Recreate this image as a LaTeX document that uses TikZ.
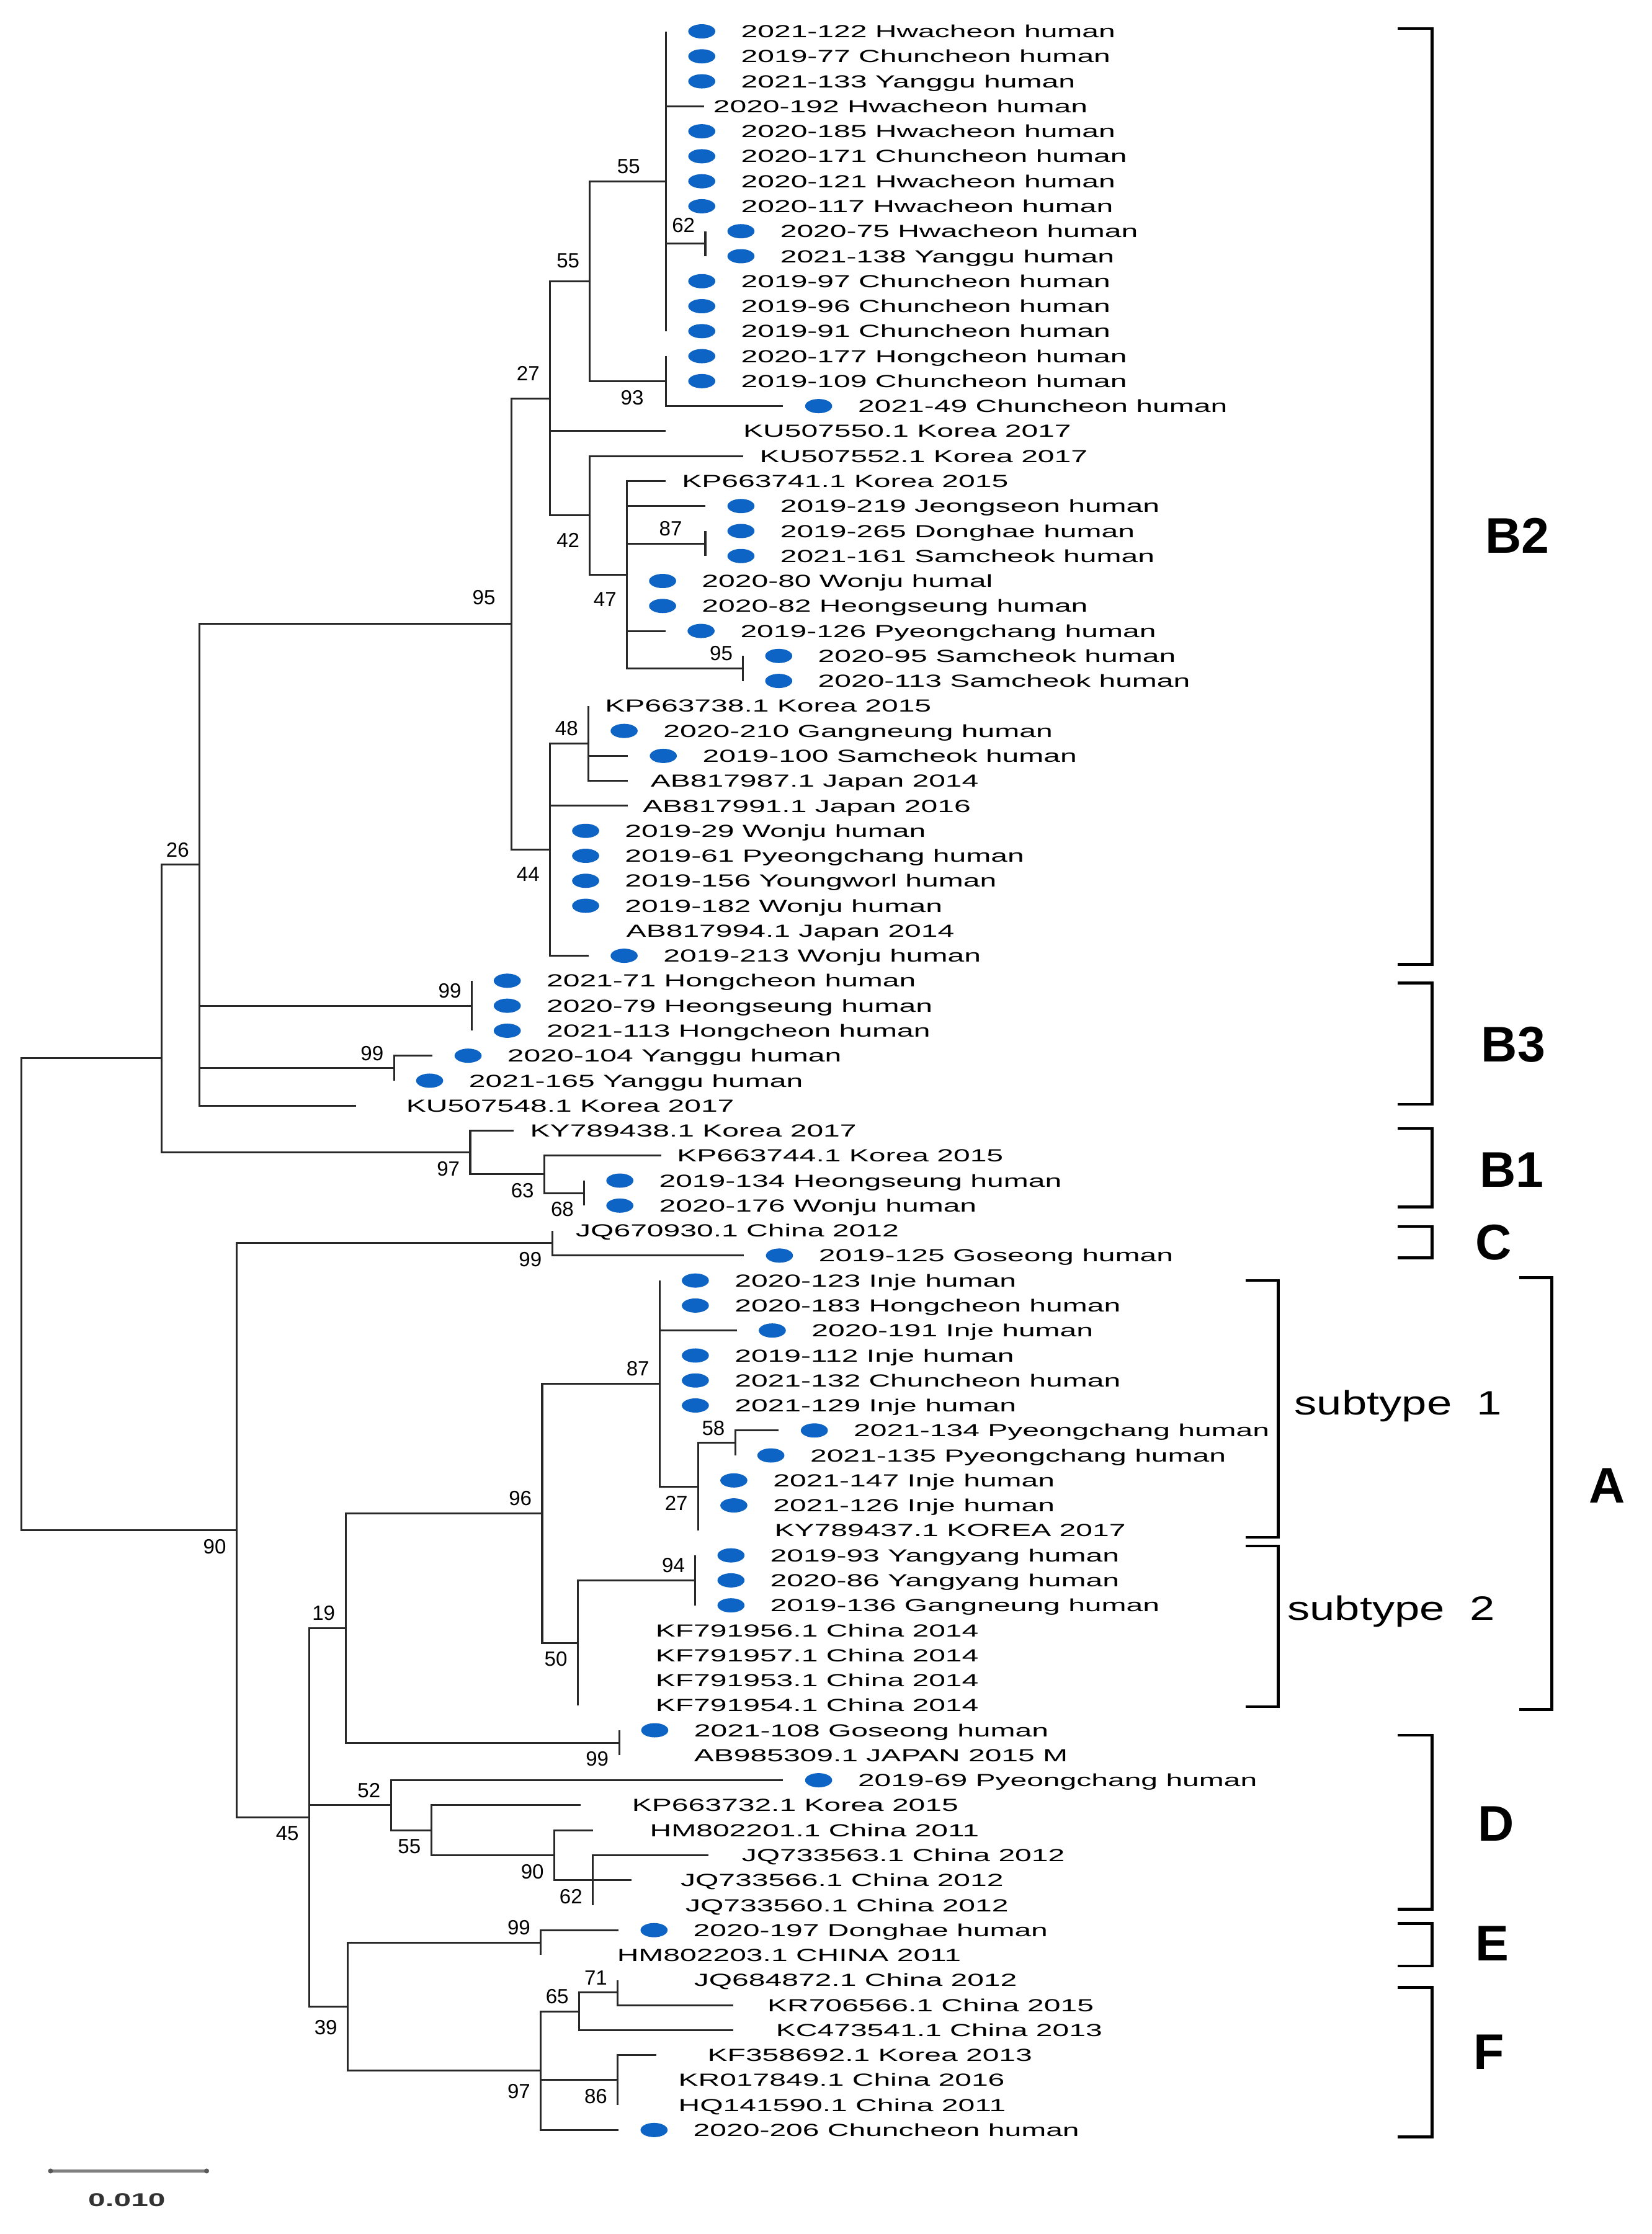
\documentclass[tikz,border=0pt]{standalone}
\usepackage{fontspec}
\setmainfont{Liberation Sans}
\usetikzlibrary{shapes.geometric}

\definecolor{dotblue}{RGB}{14,100,196}
\definecolor{treeline}{RGB}{40,40,40}

\begin{document}
\begin{tikzpicture}[x=0.02cm, y=-0.35072cm,
    branch/.style={draw=treeline, line width=0.75pt},
    dot/.style={ellipse, fill=dotblue, minimum width=0.38cm, minimum height=0.2cm, inner sep=0pt},
    taxon/.style={anchor=base west, inner sep=0pt, yshift=-2.5pt, font=\fontsize{7}{8}\selectfont, xscale=1.7, transform shape},
    bs/.style={font=\fontsize{8.2}{9}\selectfont, inner sep=0pt},
    bsa/.style={bs, anchor=south east, xshift=-0.14cm, yshift=0.1cm},
    bsb/.style={bs, anchor=north east, xshift=-0.14cm, yshift=-0.12cm},
    bracket/.style={line width=1.1pt, black},
    clade/.style={font=\fontsize{20}{24}\selectfont\bfseries, inner sep=0pt},
    subtype/.style={anchor=west, inner sep=0pt, font=\fontsize{13.5}{16}\selectfont, xscale=1.33, transform shape}]

    \path[use as bounding box, fill=white] (0,-0.2546) rectangle (1159,89.163);

    % internal nodes
    \coordinate (root) at (15,51.54);
    \coordinate (nB) at (113.5,42.09);
    \coordinate (nBB) at (140,34.359);
    \coordinate (n95) at (359,24.719);
    \coordinate (n27) at (386,15.688);
    \coordinate (n55b) at (414,11);
    \coordinate (n55a) at (467.5,7);
    \coordinate (n62) at (495,9.5);
    \coordinate (n93) at (467.5,15);
    \coordinate (n42) at (414,20.375);
    \coordinate (n47) at (440,22.75);
    \coordinate (n87) at (495,21.5);
    \coordinate (n95b) at (521.5,26.5);
    \coordinate (n44) at (386,33.75);
    \coordinate (n48) at (413,29.5);
    \coordinate (n99a) at (331,40);
    \coordinate (n99b) at (276.5,42.5);
    \coordinate (n97) at (330,45.875);
    \coordinate (n63) at (382,46.75);
    \coordinate (n68) at (410,47.5);
    \coordinate (n90) at (166,60.992);
    \coordinate (n99C) at (387.5,49.5);
    \coordinate (n45) at (217,72.484);
    \coordinate (n19) at (242.5,64.906);
    \coordinate (n96) at (380.5,60.313);
    \coordinate (n87A) at (463,55.125);
    \coordinate (n27A) at (490,59.25);
    \coordinate (n58) at (516,57.5);
    \coordinate (n50) at (405.5,65.5);
    \coordinate (n94) at (488,63);
    \coordinate (n99A) at (434.5,69.5);
    \coordinate (n52) at (274.3,72);
    \coordinate (n55D) at (302.6,73);
    \coordinate (n90D) at (389,74);
    \coordinate (n62D) at (416,75);
    \coordinate (n39) at (244,80.063);
    \coordinate (n99E) at (379.5,77.5);
    \coordinate (n97F) at (379.5,82.625);
    \coordinate (n65) at (406.4,80.25);
    \coordinate (n71) at (433.5,79.5);
    \coordinate (n86) at (433.5,83);

    % leaves
    \coordinate (l1) at (467.5,1); \node[dot] (d1) at (492.5,1) {}; \node[taxon] (t1) at (519.5,1) {2021-122 Hwacheon human};
    \coordinate (l2) at (467.5,2); \node[dot] (d2) at (492.5,2) {}; \node[taxon] (t2) at (519.5,2) {2019-77 Chuncheon human};
    \coordinate (l3) at (467.5,3); \node[dot] (d3) at (492.5,3) {}; \node[taxon] (t3) at (519.5,3) {2021-133 Yanggu human};
    \coordinate (l4) at (494,4); \node[taxon] (t4) at (500,4) {2020-192 Hwacheon human};
    \coordinate (l5) at (467.5,5); \node[dot] (d5) at (492.5,5) {}; \node[taxon] (t5) at (519.5,5) {2020-185 Hwacheon human};
    \coordinate (l6) at (467.5,6); \node[dot] (d6) at (492.5,6) {}; \node[taxon] (t6) at (519.5,6) {2020-171 Chuncheon human};
    \coordinate (l7) at (467.5,7); \node[dot] (d7) at (492.5,7) {}; \node[taxon] (t7) at (519.5,7) {2020-121 Hwacheon human};
    \coordinate (l8) at (467.5,8); \node[dot] (d8) at (492.5,8) {}; \node[taxon] (t8) at (519.5,8) {2020-117 Hwacheon human};
    \coordinate (l9) at (495,9); \node[dot] (d9) at (520,9) {}; \node[taxon] (t9) at (547,9) {2020-75 Hwacheon human};
    \coordinate (l10) at (495,10); \node[dot] (d10) at (520,10) {}; \node[taxon] (t10) at (547,10) {2021-138 Yanggu human};
    \coordinate (l11) at (467.5,11); \node[dot] (d11) at (492.5,11) {}; \node[taxon] (t11) at (519.5,11) {2019-97 Chuncheon human};
    \coordinate (l12) at (467.5,12); \node[dot] (d12) at (492.5,12) {}; \node[taxon] (t12) at (519.5,12) {2019-96 Chuncheon human};
    \coordinate (l13) at (467.5,13); \node[dot] (d13) at (492.5,13) {}; \node[taxon] (t13) at (519.5,13) {2019-91 Chuncheon human};
    \coordinate (l14) at (467.5,14); \node[dot] (d14) at (492.5,14) {}; \node[taxon] (t14) at (519.5,14) {2020-177 Hongcheon human};
    \coordinate (l15) at (467.5,15); \node[dot] (d15) at (492.5,15) {}; \node[taxon] (t15) at (519.5,15) {2019-109 Chuncheon human};
    \coordinate (l16) at (549.5,16); \node[dot] (d16) at (574.5,16) {}; \node[taxon] (t16) at (601.5,16) {2021-49 Chuncheon human};
    \coordinate (l17) at (467,17); \node[taxon] (t17) at (521,17) {KU507550.1 Korea 2017};
    \coordinate (l18) at (521.5,18); \node[taxon] (t18) at (532.5,18) {KU507552.1 Korea 2017};
    \coordinate (l19) at (467,19); \node[taxon] (t19) at (478,19) {KP663741.1 Korea 2015};
    \coordinate (l20) at (495,20); \node[dot] (d20) at (520,20) {}; \node[taxon] (t20) at (547,20) {2019-219 Jeongseon human};
    \coordinate (l21) at (495,21); \node[dot] (d21) at (520,21) {}; \node[taxon] (t21) at (547,21) {2019-265 Donghae human};
    \coordinate (l22) at (495,22); \node[dot] (d22) at (520,22) {}; \node[taxon] (t22) at (547,22) {2021-161 Samcheok human};
    \coordinate (l23) at (440,23); \node[dot] (d23) at (465,23) {}; \node[taxon] (t23) at (492,23) {2020-80 Wonju humal};
    \coordinate (l24) at (440,24); \node[dot] (d24) at (465,24) {}; \node[taxon] (t24) at (492,24) {2020-82 Heongseung human};
    \coordinate (l25) at (467,25); \node[dot] (d25) at (492,25) {}; \node[taxon] (t25) at (519,25) {2019-126 Pyeongchang human};
    \coordinate (l26) at (521.5,26); \node[dot] (d26) at (546.5,26) {}; \node[taxon] (t26) at (573.5,26) {2020-95 Samcheok human};
    \coordinate (l27) at (521.5,27); \node[dot] (d27) at (546.5,27) {}; \node[taxon] (t27) at (573.5,27) {2020-113 Samcheok human};
    \coordinate (l28) at (413,28); \node[taxon] (t28) at (424,28) {KP663738.1 Korea 2015};
    \coordinate (l29) at (413,29); \node[dot] (d29) at (438,29) {}; \node[taxon] (t29) at (465,29) {2020-210 Gangneung human};
    \coordinate (l30) at (440.5,30); \node[dot] (d30) at (465.5,30) {}; \node[taxon] (t30) at (492.5,30) {2019-100 Samcheok human};
    \coordinate (l31) at (440.5,31); \node[taxon] (t31) at (456,31) {AB817987.1 Japan 2014};
    \coordinate (l32) at (440.5,32); \node[taxon] (t32) at (450.5,32) {AB817991.1 Japan 2016};
    \coordinate (l33) at (386,33); \node[dot] (d33) at (411,33) {}; \node[taxon] (t33) at (438,33) {2019-29 Wonju human};
    \coordinate (l34) at (386,34); \node[dot] (d34) at (411,34) {}; \node[taxon] (t34) at (438,34) {2019-61 Pyeongchang human};
    \coordinate (l35) at (386,35); \node[dot] (d35) at (411,35) {}; \node[taxon] (t35) at (438,35) {2019-156 Youngworl human};
    \coordinate (l36) at (386,36); \node[dot] (d36) at (411,36) {}; \node[taxon] (t36) at (438,36) {2019-182 Wonju human};
    \coordinate (l37) at (386,37); \node[taxon] (t37) at (439,37) {AB817994.1 Japan 2014};
    \coordinate (l38) at (413,38); \node[dot] (d38) at (438,38) {}; \node[taxon] (t38) at (465,38) {2019-213 Wonju human};
    \coordinate (l39) at (331,39); \node[dot] (d39) at (356,39) {}; \node[taxon] (t39) at (383,39) {2021-71 Hongcheon human};
    \coordinate (l40) at (331,40); \node[dot] (d40) at (356,40) {}; \node[taxon] (t40) at (383,40) {2020-79 Heongseung human};
    \coordinate (l41) at (331,41); \node[dot] (d41) at (356,41) {}; \node[taxon] (t41) at (383,41) {2021-113 Hongcheon human};
    \coordinate (l42) at (303.5,42); \node[dot] (d42) at (328.5,42) {}; \node[taxon] (t42) at (355.5,42) {2020-104 Yanggu human};
    \coordinate (l43) at (276.5,43); \node[dot] (d43) at (301.5,43) {}; \node[taxon] (t43) at (328.5,43) {2021-165 Yanggu human};
    \coordinate (l44) at (250,44); \node[taxon] (t44) at (284.5,44) {KU507548.1 Korea 2017};
    \coordinate (l45) at (360.5,45); \node[taxon] (t45) at (371.5,45) {KY789438.1 Korea 2017};
    \coordinate (l46) at (464,46); \node[taxon] (t46) at (474.5,46) {KP663744.1 Korea 2015};
    \coordinate (l47) at (410,47); \node[dot] (d47) at (435,47) {}; \node[taxon] (t47) at (462,47) {2019-134 Heongseung human};
    \coordinate (l48) at (410,48); \node[dot] (d48) at (435,48) {}; \node[taxon] (t48) at (462,48) {2020-176 Wonju human};
    \coordinate (l49) at (387.5,49); \node[taxon] (t49) at (403.5,49) {JQ670930.1 China 2012};
    \coordinate (l50) at (522,50); \node[dot] (d50) at (547,50) {}; \node[taxon] (t50) at (574,50) {2019-125 Goseong human};
    \coordinate (l51) at (463,51); \node[dot] (d51) at (488,51) {}; \node[taxon] (t51) at (515,51) {2020-123 Inje human};
    \coordinate (l52) at (463,52); \node[dot] (d52) at (488,52) {}; \node[taxon] (t52) at (515,52) {2020-183 Hongcheon human};
    \coordinate (l53) at (517,53); \node[dot] (d53) at (542,53) {}; \node[taxon] (t53) at (569,53) {2020-191 Inje human};
    \coordinate (l54) at (463,54); \node[dot] (d54) at (488,54) {}; \node[taxon] (t54) at (515,54) {2019-112 Inje human};
    \coordinate (l55) at (463,55); \node[dot] (d55) at (488,55) {}; \node[taxon] (t55) at (515,55) {2021-132 Chuncheon human};
    \coordinate (l56) at (463,56); \node[dot] (d56) at (488,56) {}; \node[taxon] (t56) at (515,56) {2021-129 Inje human};
    \coordinate (l57) at (546.5,57); \node[dot] (d57) at (571.5,57) {}; \node[taxon] (t57) at (598.5,57) {2021-134 Pyeongchang human};
    \coordinate (l58) at (516,58); \node[dot] (d58) at (541,58) {}; \node[taxon] (t58) at (568,58) {2021-135 Pyeongchang human};
    \coordinate (l59) at (490,59); \node[dot] (d59) at (515,59) {}; \node[taxon] (t59) at (542,59) {2021-147 Inje human};
    \coordinate (l60) at (490,60); \node[dot] (d60) at (515,60) {}; \node[taxon] (t60) at (542,60) {2021-126 Inje human};
    \coordinate (l61) at (490,61); \node[taxon] (t61) at (543,61) {KY789437.1 KOREA 2017};
    \coordinate (l62) at (488,62); \node[dot] (d62) at (513,62) {}; \node[taxon] (t62) at (540,62) {2019-93 Yangyang human};
    \coordinate (l63) at (488,63); \node[dot] (d63) at (513,63) {}; \node[taxon] (t63) at (540,63) {2020-86 Yangyang human};
    \coordinate (l64) at (488,64); \node[dot] (d64) at (513,64) {}; \node[taxon] (t64) at (540,64) {2019-136 Gangneung human};
    \coordinate (l65) at (405.5,65); \node[taxon] (t65) at (459.5,65) {KF791956.1 China 2014};
    \coordinate (l66) at (405.5,66); \node[taxon] (t66) at (459.5,66) {KF791957.1 China 2014};
    \coordinate (l67) at (405.5,67); \node[taxon] (t67) at (459.5,67) {KF791953.1 China 2014};
    \coordinate (l68) at (405.5,68); \node[taxon] (t68) at (459.5,68) {KF791954.1 China 2014};
    \coordinate (l69) at (434.5,69); \node[dot] (d69) at (459.5,69) {}; \node[taxon] (t69) at (486.5,69) {2021-108 Goseong human};
    \coordinate (l70) at (434.5,70); \node[taxon] (t70) at (486.5,70) {AB985309.1 JAPAN 2015 M};
    \coordinate (l71) at (549.5,71); \node[dot] (d71) at (574.5,71) {}; \node[taxon] (t71) at (601.5,71) {2019-69 Pyeongchang human};
    \coordinate (l72) at (407.5,72); \node[taxon] (t72) at (443,72) {KP663732.1 Korea 2015};
    \coordinate (l73) at (416,73); \node[taxon] (t73) at (455.5,73) {HM802201.1 China 2011};
    \coordinate (l74) at (497,74); \node[taxon] (t74) at (520,74) {JQ733563.1 China 2012};
    \coordinate (l75) at (443,75); \node[taxon] (t75) at (477,75) {JQ733566.1 China 2012};
    \coordinate (l76) at (416,76); \node[taxon] (t76) at (480.5,76) {JQ733560.1 China 2012};
    \coordinate (l77) at (434,77); \node[dot] (d77) at (459,77) {}; \node[taxon] (t77) at (486,77) {2020-197 Donghae human};
    \coordinate (l78) at (379.5,78); \node[taxon] (t78) at (432.5,78) {HM802203.1 CHINA 2011};
    \coordinate (l79) at (433.5,79); \node[taxon] (t79) at (486.5,79) {JQ684872.1 China 2012};
    \coordinate (l80) at (514.5,80); \node[taxon] (t80) at (538,80) {KR706566.1 China 2015};
    \coordinate (l81) at (514.5,81); \node[taxon] (t81) at (544,81) {KC473541.1 China 2013};
    \coordinate (l82) at (460.5,82); \node[taxon] (t82) at (496,82) {KF358692.1 Korea 2013};
    \coordinate (l83) at (433.5,83); \node[taxon] (t83) at (475.5,83) {KR017849.1 China 2016};
    \coordinate (l84) at (433.5,84); \node[taxon] (t84) at (475.5,84) {HQ141590.1 China 2011};
    \coordinate (l85) at (434,85); \node[dot] (d85) at (459,85) {}; \node[taxon] (t85) at (486,85) {2020-206 Chuncheon human};

    % branches
    \draw[branch] (root) |- (nB) (root) |- (n90);
    \draw[branch] (nB) |- (nBB) (nB) |- (n97);
    \draw[branch] (nBB) |- (n95) (nBB) |- (n99a) (nBB) |- (n99b) (nBB) |- (l44);
    \draw[branch] (n95) |- (n27) (n95) |- (n44);
    \draw[branch] (n27) |- (n55b) (n27) |- (l17) (n27) |- (n42);
    \draw[branch] (n55b) |- (n55a) (n55b) |- (n93);
    \draw[branch] (n55a) |- (l1) (n55a) |- (l4) (n55a) |- (n62) (n55a) |- (l13);
    \draw[branch] (n62) |- (l9) (n62) |- (l10);
    \draw[branch] (n93) |- (l14) (n93) |- (l16);
    \draw[branch] (n42) |- (l18) (n42) |- (n47);
    \draw[branch] (n47) |- (l19) (n47) |- (l20) (n47) |- (n87) (n47) |- (l25) (n47) |- (n95b);
    \draw[branch] (n87) |- (l21) (n87) |- (l22);
    \draw[branch] (n95b) |- (l26) (n95b) |- (l27);
    \draw[branch] (n44) |- (n48) (n44) |- (l32) (n44) |- (l38);
    \draw[branch] (n48) |- (l28) (n48) |- (l29) (n48) |- (l30) (n48) |- (l31);
    \draw[branch] (n99a) |- (l39) (n99a) |- (l41);
    \draw[branch] (n99b) |- (l42) (n99b) |- (l43);
    \draw[branch] (n97) |- (l45) (n97) |- (n63);
    \draw[branch] (n63) |- (l46) (n63) |- (n68);
    \draw[branch] (n68) |- (l47) (n68) |- (l48);
    \draw[branch] (n90) |- (n99C) (n90) |- (n45);
    \draw[branch] (n99C) |- (l49) (n99C) |- (l50);
    \draw[branch] (n45) |- (n19) (n45) |- (n52) (n45) |- (n39);
    \draw[branch] (n19) |- (n96) (n19) |- (n99A);
    \draw[branch] (n96) |- (n87A) (n96) |- (n50);
    \draw[branch] (n87A) |- (l51) (n87A) |- (l53) (n87A) |- (n27A);
    \draw[branch] (n27A) |- (n58) (n27A) |- (l61);
    \draw[branch] (n58) |- (l57) (n58) |- (l58);
    \draw[branch] (n50) |- (n94) (n50) |- (l68);
    \draw[branch] (n94) |- (l62) (n94) |- (l64);
    \draw[branch] (n99A) |- (l69) (n99A) |- (l70);
    \draw[branch] (n52) |- (l71) (n52) |- (n55D);
    \draw[branch] (n55D) |- (l72) (n55D) |- (n90D);
    \draw[branch] (n90D) |- (l73) (n90D) |- (n62D);
    \draw[branch] (n62D) |- (l74) (n62D) |- (l75) (n62D) |- (l76);
    \draw[branch] (n39) |- (n99E) (n39) |- (n97F);
    \draw[branch] (n99E) |- (l77) (n99E) |- (l78);
    \draw[branch] (n97F) |- (n65) (n97F) |- (n86) (n97F) |- (l85);
    \draw[branch] (n65) |- (n71) (n65) |- (l81);
    \draw[branch] (n71) |- (l79) (n71) |- (l80);
    \draw[branch] (n86) |- (l82) (n86) |- (l84);

    % bootstrap values
    \node[bsa, xshift=-0.22cm] (b55a) at (n55a) {55};
    \node[bsa, yshift=0.08cm] (b55b) at (n55b) {55};
    \node[bsa, yshift=0.14cm] (b27) at (n27) {27};
    \node[bsa, yshift=0.05cm] (b62) at (n62) {62};
    \node[bsb, xshift=-0.17cm] (b93) at (n93) {93};
    \node[bsb, yshift=-0.12cm] (b42) at (n42) {42};
    \node[bsa, xshift=-0.18cm] (b87) at (n87) {87};
    \node[bsb, yshift=-0.12cm] (b47) at (n47) {47};
    \node[bsa] (b95b) at (n95b) {95};
    \node[bsa] (b48) at (n48) {48};
    \node[bsb, yshift=-0.12cm] (b44) at (n44) {44};
    \node[bsa, xshift=-0.08cm, yshift=0.16cm] (b95) at (n95) {95};
    \node[bsa] (b26) at (nBB) {26};
    \node[bsa] (b99a) at (n99a) {99};
    \node[bsa] (b99b) at (n99b) {99};
    \node[bsb] (b97) at (n97) {97};
    \node[bsb] (b63) at (n63) {63};
    \node[bsb] (b68) at (n68) {68};
    \node[bsb] (b99C) at (n99C) {99};
    \node[bsa] (b87A) at (n87A) {87};
    \node[bsa] (b58) at (n58) {58};
    \node[bsb] (b27A) at (n27A) {27};
    \node[bsa] (b96) at (n96) {96};
    \node[bsa] (b94) at (n94) {94};
    \node[bsb] (b50) at (n50) {50};
    \node[bsa] (b19) at (n19) {19};
    \node[bsb] (b99A) at (n99A) {99};
    \node[bsb] (b90) at (n90) {90};
    \node[bsa] (b52) at (n52) {52};
    \node[bsb] (b45) at (n45) {45};
    \node[bsb] (b55D) at (n55D) {55};
    \node[bsb] (b90D) at (n90D) {90};
    \node[bsb] (b62D) at (n62D) {62};
    \node[bsa] (b99E) at (n99E) {99};
    \node[bsa] (b71) at (n71) {71};
    \node[bsa] (b65) at (n65) {65};
    \node[bsb, yshift=-0.06cm] (b39) at (n39) {39};
    \node[bsb, yshift=-0.06cm] (b97F) at (n97F) {97};
    \node[bsb] (b86) at (n86) {86};

    % clade brackets
    \draw[bracket] (981,0.886) -| (1005,38.35) -- (981,38.35);
    \draw[bracket] (981,39.09) -| (1005,43.94) -- (981,43.94);
    \draw[bracket] (981,44.91) -| (1005,48.05) -- (981,48.05);
    \draw[bracket] (981,48.84) -| (1005,50.09) -- (981,50.09);
    \draw[bracket] (874,51.0) -| (897,61.28) -- (874,61.28);
    \draw[bracket] (874,61.62) -| (897,68.06) -- (874,68.06);
    \draw[bracket] (1066,50.88) -| (1089,68.17) -- (1066,68.17);
    \draw[bracket] (981,69.2) -| (1005,76.16) -- (981,76.16);
    \draw[bracket] (981,76.73) -| (1005,78.44) -- (981,78.44);
    \draw[bracket] (981,79.29) -| (1005,85.28) -- (981,85.28);

    \node[clade] (cB2) at (1065,21.19) {B2};
    \node[clade] (cB3) at (1062,41.55) {B3};
    \node[clade] (cB1) at (1061,46.56) {B1};
    \node[clade] (cC) at (1048,49.47) {C};
    \node[clade] (cA) at (1128,59.22) {A};
    \node[clade] (cD) at (1050,72.74) {D};
    \node[clade] (cE) at (1047,77.53) {E};
    \node[clade] (cF) at (1045,81.87) {F};
    \node[subtype] (st1) at (908,56.03) {subtype\ \ 1};
    \node[subtype] (st2) at (903,64.24) {subtype\ \ 2};

    % scale bar
    \coordinate (sb0) at (35.5,86.64);
    \coordinate (sb1) at (145,86.64);
    \draw[gray, line width=1.2pt] (sb0) -- (sb1);
    \fill[gray!70!black] (sb0) circle (0.035cm) (sb1) circle (0.035cm);
    \node[taxon, anchor=center, yshift=2.5pt, text=black!80, font=\fontsize{7.4}{8}\selectfont\bfseries, xscale=0.98] (sbl) at (89,87.8) {0.010};
\end{tikzpicture}
\end{document}
